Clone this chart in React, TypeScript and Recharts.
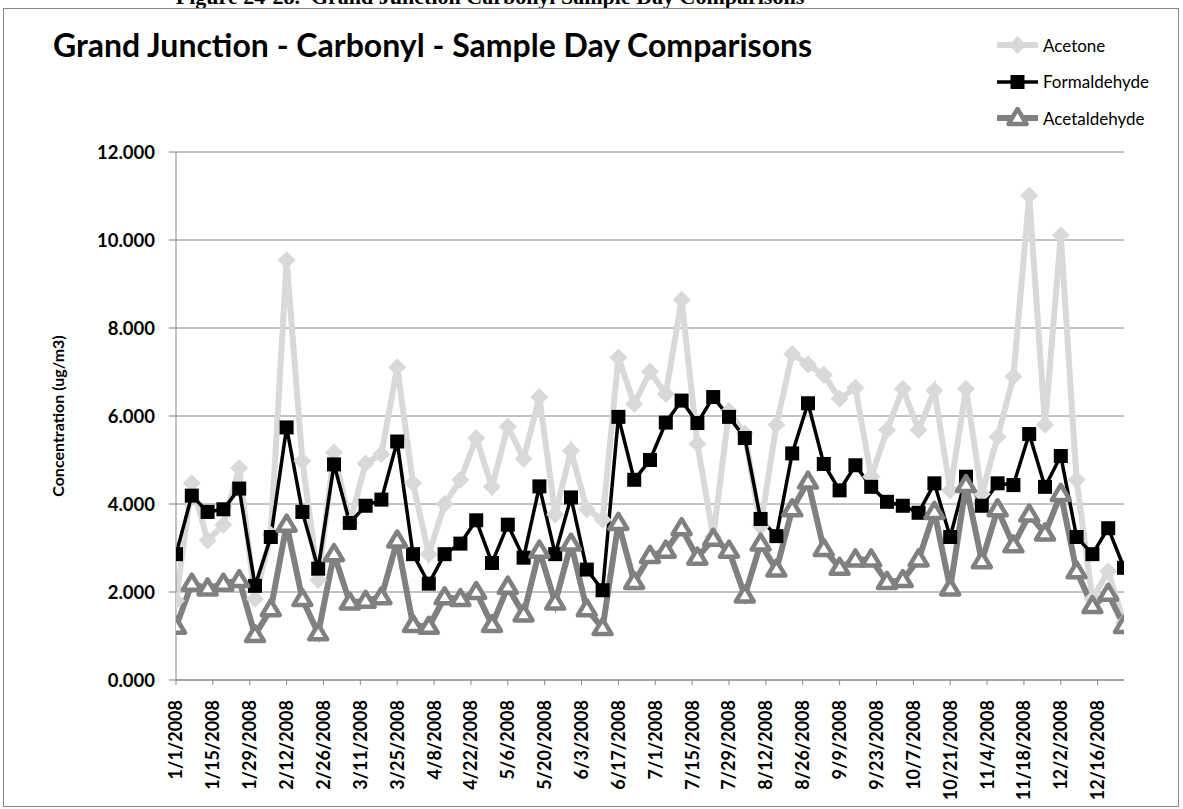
import React from 'react';
import { LineChart, Line, XAxis, YAxis, CartesianGrid } from 'recharts';

// ── Colores (estilo Excel 2007) ─────────────────────────────────────────────
const ACETONE_COLOR = '#D9D9D9';
const FORM_COLOR = '#000000';
const ACET_COLOR = '#808080';
const GRID_COLOR = '#868686';
const FONT = 'Lato, "Open Sans", sans-serif';

// muestreo 1 de cada 6 días
const SAMPLE_DATES = [
  '1/1/2008', '1/7/2008', '1/13/2008', '1/19/2008', '1/25/2008', '1/31/2008',
  '2/6/2008', '2/12/2008', '2/18/2008', '2/24/2008',
  '3/1/2008', '3/7/2008', '3/13/2008', '3/19/2008', '3/25/2008', '3/31/2008',
  '4/6/2008', '4/12/2008', '4/18/2008', '4/24/2008', '4/30/2008',
  '5/6/2008', '5/12/2008', '5/18/2008', '5/24/2008', '5/30/2008',
  '6/5/2008', '6/11/2008', '6/17/2008', '6/23/2008', '6/29/2008',
  '7/5/2008', '7/11/2008', '7/17/2008', '7/23/2008', '7/29/2008',
  '8/4/2008', '8/10/2008', '8/16/2008', '8/22/2008', '8/28/2008',
  '9/3/2008', '9/9/2008', '9/15/2008', '9/21/2008', '9/27/2008',
  '10/3/2008', '10/9/2008', '10/15/2008', '10/21/2008', '10/27/2008',
  '11/2/2008', '11/8/2008', '11/14/2008', '11/20/2008', '11/26/2008',
  '12/2/2008', '12/8/2008', '12/14/2008', '12/20/2008', '12/26/2008',
];

const ACETONE = [
  1.80, 4.47, 3.17, 3.53, 4.82, 1.84, 3.30, 9.54, 4.98, 2.27,
  5.17, 3.57, 4.92, 5.13, 7.11, 4.47, 2.86, 4.00, 4.55, 5.50,
  4.39, 5.76, 5.03, 6.43, 3.76, 5.21, 3.88, 3.64, 7.33, 6.27,
  7.01, 6.50, 8.64, 5.37, 3.25, 6.11, 5.60, 3.49, 5.80, 7.41,
  7.17, 6.94, 6.39, 6.64, 4.62, 5.68, 6.62, 5.68, 6.58, 4.31,
  6.62, 4.23, 5.53, 6.90, 11.01, 5.80, 10.11, 4.55, 1.84, 2.47,
  1.30,
];

const FORMALDEHYDE = [
  2.86, 4.19, 3.82, 3.88, 4.35, 2.14, 3.25, 5.74, 3.82, 2.53,
  4.90, 3.57, 3.96, 4.10, 5.42, 2.86, 2.19, 2.86, 3.10, 3.63,
  2.66, 3.53, 2.78, 4.40, 2.86, 4.15, 2.51, 2.04, 5.98, 4.55,
  5.00, 5.85, 6.35, 5.84, 6.43, 5.98, 5.50, 3.66, 3.27, 5.15,
  6.29, 4.91, 4.31, 4.88, 4.39, 4.05, 3.96, 3.80, 4.47, 3.25,
  4.62, 3.96, 4.47, 4.43, 5.59, 4.39, 5.09, 3.25, 2.86, 3.45,
  2.55,
];

const ACETALDEHYDE = [
  1.21, 2.19, 2.08, 2.19, 2.27, 1.02, 1.61, 3.53, 1.84, 1.06,
  2.86, 1.76, 1.80, 1.88, 3.17, 1.25, 1.21, 1.88, 1.84, 2.00,
  1.25, 2.12, 1.49, 2.94, 1.76, 3.10, 1.61, 1.18, 3.57, 2.23,
  2.82, 2.94, 3.45, 2.78, 3.21, 2.94, 1.92, 3.10, 2.51, 3.88,
  4.51, 2.98, 2.55, 2.74, 2.74, 2.23, 2.27, 2.74, 3.82, 2.08,
  4.43, 2.70, 3.88, 3.06, 3.76, 3.33, 4.23, 2.47, 1.68, 1.96,
  1.23,
];

const TICK_LABELS = [
  '1/1/2008', '1/15/2008', '1/29/2008', '2/12/2008', '2/26/2008', '3/11/2008',
  '3/25/2008', '4/8/2008', '4/22/2008', '5/6/2008', '5/20/2008', '6/3/2008',
  '6/17/2008', '7/1/2008', '7/15/2008', '7/29/2008', '8/12/2008', '8/26/2008',
  '9/9/2008', '9/23/2008', '10/7/2008', '10/21/2008', '11/4/2008', '11/18/2008',
  '12/2/2008', '12/16/2008',
];

const Y_TICKS = [0, 2, 4, 6, 8, 10, 12];

// días desde 1/1/2008
const dayOf = (s: string) => {
  const [m, d, y] = s.split('/').map(Number);
  return Math.round((Date.UTC(y, m - 1, d) - Date.UTC(2008, 0, 1)) / 86400000);
};

const data = SAMPLE_DATES.map((s, i) => ({
  day: dayOf(s),
  acetone: ACETONE[i],
  formaldehyde: FORMALDEHYDE[i],
  acetaldehyde: ACETALDEHYDE[i],
}));

const xTicks = TICK_LABELS.map(dayOf);
const labelOfDay: Record<number, string> = {};
TICK_LABELS.forEach(l => { labelOfDay[dayOf(l)] = l; });

// ── Marcadores ──────────────────────────────────────────────────────────────
const Diamond = ({ cx, cy }: any) => (
  <polygon
    points={`${cx},${cy - 9} ${cx + 9},${cy} ${cx},${cy + 9} ${cx - 9},${cy}`}
    fill={ACETONE_COLOR}
  />
);

const Square = ({ cx, cy }: any) => (
  <rect x={cx - 7} y={cy - 7} width={14} height={14} fill={FORM_COLOR} />
);

const Triangle = ({ cx, cy }: any) => (
  <polygon
    points={`${cx},${cy - 9} ${cx + 9},${cy + 6} ${cx - 9},${cy + 6}`}
    fill="#ffffff"
    stroke={ACET_COLOR}
    strokeWidth={4.5}
    strokeLinejoin="round"
  />
);

const XTick = ({ x, y, payload }: any) => (
  <g transform={`translate(${x},${y + 13})`}>
    <text
      x={0}
      y={0}
      dy="0.36em"
      textAnchor="end"
      transform="rotate(-90)"
      fontFamily={FONT}
      fontWeight="bold"
      fontSize={18}
      fill="#000"
    >
      {labelOfDay[payload.value]}
    </text>
  </g>
);

const LEGEND_ITEMS = [
  { name: 'Acetone', color: ACETONE_COLOR, width: 6, Marker: Diamond },
  { name: 'Formaldehyde', color: FORM_COLOR, width: 3.5, Marker: Square },
  { name: 'Acetaldehyde', color: ACET_COLOR, width: 6, Marker: Triangle },
];

export default function App() {
  return (
    <div style={{ position: 'absolute', left: 0, top: 0, width: 1183, height: 809, background: '#fff', overflow: 'hidden' }}>
      {/* encabezado del documento, cortado arriba */}
      <div
        style={{
          position: 'absolute', left: 0, width: 980, top: -16, textAlign: 'center',
          fontFamily: '"Liberation Serif", "Times New Roman", serif', fontWeight: 'bold', fontSize: 22,
          whiteSpace: 'nowrap',
        }}
      >
        Figure 24-28.&nbsp;&nbsp;Grand Junction Carbonyl Sample Day Comparisons
      </div>

      {/* marco del gráfico */}
      <div
        style={{
          position: 'absolute', left: 3, top: 8, width: 1174, height: 797,
          border: `1px solid ${GRID_COLOR}`,
        }}
      />

      <div
        style={{
          position: 'absolute', left: 53, top: 26, lineHeight: '38px',
          fontFamily: FONT, fontWeight: 'bold', fontSize: 32, color: '#000', whiteSpace: 'nowrap',
        }}
      >
        Grand Junction - Carbonyl - Sample Day Comparisons
      </div>

      {/* leyenda */}
      <div style={{ position: 'absolute', left: 997, top: 27, fontFamily: FONT, fontSize: 17, color: '#000' }}>
        {LEGEND_ITEMS.map(it => (
          <div key={it.name} style={{ display: 'flex', alignItems: 'center', height: 36.5 }}>
            <svg width={41} height={22} style={{ marginRight: 5 }}>
              <line x1={0} y1={11} x2={41} y2={11} stroke={it.color} strokeWidth={it.width} />
              <it.Marker cx={20.5} cy={11} />
            </svg>
            <span>{it.name}</span>
          </div>
        ))}
      </div>

      <div style={{ position: 'absolute', left: 0, top: 0 }}>
        <LineChart
          width={1183}
          height={809}
          data={data}
          margin={{ top: 152, right: 59, bottom: 19, left: 76 }}
        >
          <CartesianGrid vertical={false} stroke={GRID_COLOR} strokeWidth={1} />
          <XAxis
            dataKey="day"
            type="number"
            domain={[0, 360]}
            ticks={xTicks}
            interval={0}
            tick={<XTick />}
            tickSize={5}
            height={110}
            stroke={GRID_COLOR}
            allowDataOverflow
          />
          <YAxis
            domain={[0, 12]}
            ticks={Y_TICKS}
            tickFormatter={(v: number) => v.toFixed(3)}
            tick={{ fontFamily: FONT, fontWeight: 'bold', fontSize: 18.5, fill: '#000' }}
            tickSize={7}
            tickMargin={14}
            width={100}
            stroke={GRID_COLOR}
            label={{
              value: 'Concentration (ug/m3)',
              angle: -90,
              position: 'insideLeft',
              offset: -18,
              style: { textAnchor: 'middle', fontFamily: FONT, fontWeight: 'bold', fontSize: 16, fill: '#000' },
            }}
          />
          <Line
            dataKey="acetone"
            name="Acetone"
            stroke={ACETONE_COLOR}
            strokeWidth={6}
            dot={<Diamond />}
            activeDot={false}
            isAnimationActive={false}
          />
          <Line
            dataKey="formaldehyde"
            name="Formaldehyde"
            stroke={FORM_COLOR}
            strokeWidth={3.5}
            dot={<Square />}
            activeDot={false}
            isAnimationActive={false}
          />
          <Line
            dataKey="acetaldehyde"
            name="Acetaldehyde"
            stroke={ACET_COLOR}
            strokeWidth={6}
            dot={<Triangle />}
            activeDot={false}
            isAnimationActive={false}
          />
        </LineChart>
      </div>
    </div>
  );
}
